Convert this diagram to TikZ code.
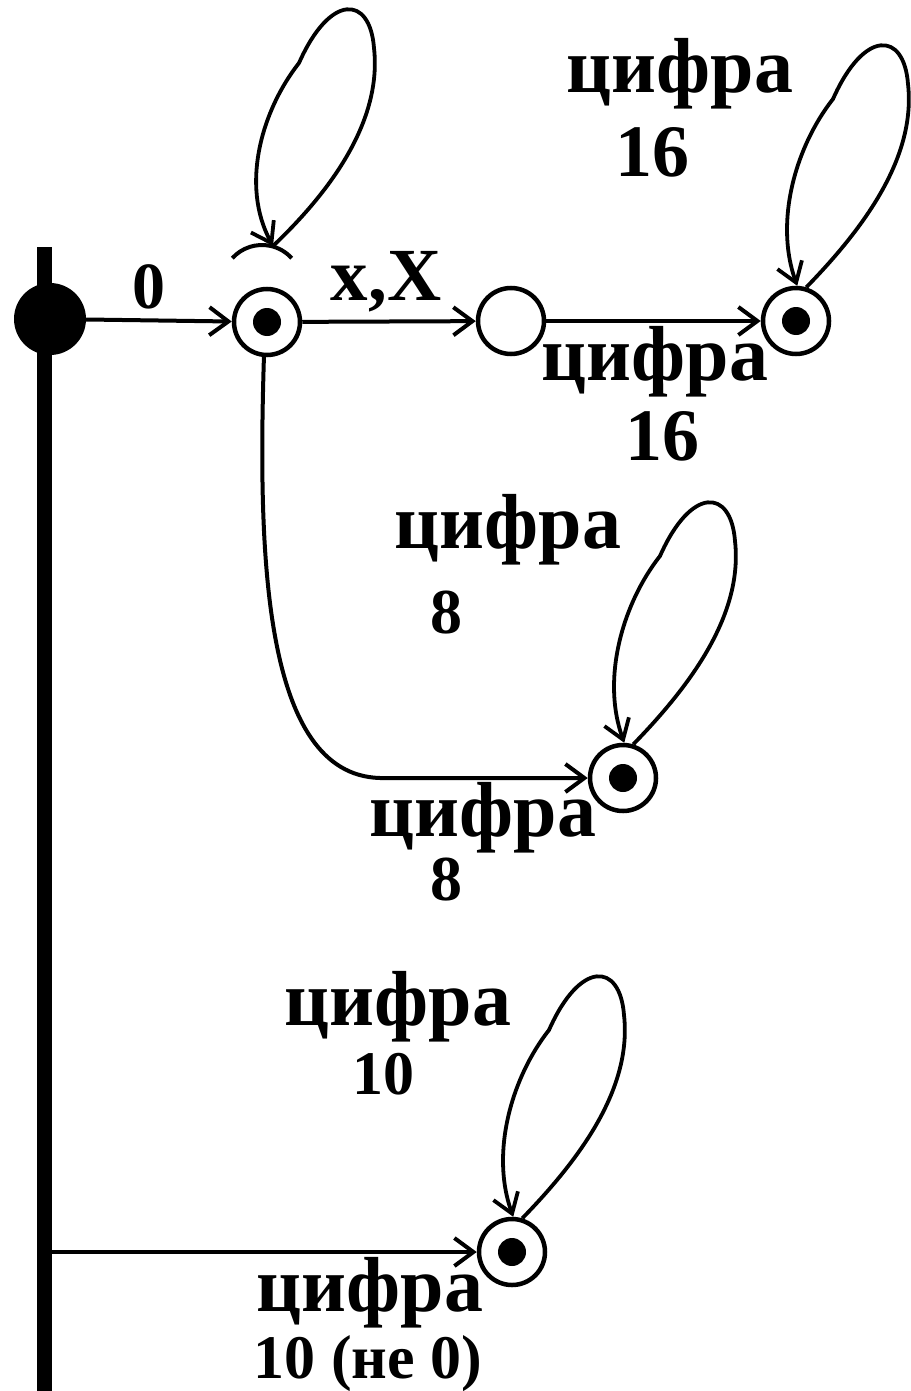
\documentclass[tikz,border=0pt]{standalone}
\usepackage{fontspec}
\setmainfont{Liberation Serif}
\usetikzlibrary{arrows.meta,calc}
\newcommand\fsz[1]{\fontsize{#1}{#1}\selectfont\bfseries}
\tikzset{
  lbl/.style={font=\fsz{78}, inner sep=0pt, anchor=base},
  st/.style={circle, draw, line width=4.5pt, minimum size=66pt, inner sep=0pt},
  acc/.style={st, path picture={\fill (path picture bounding box.center) circle (14pt);}},
  edge/.style={line width=4pt, -{Straight Barb[length=19pt,width=28pt]}},
  loopedge/.style={line width=3.8pt, -{Straight Barb[length=19pt,width=26pt]}},
}
\newcommand\leafloop[3]{%
  \begin{scope}[shift={(#1)}]
    \draw[loopedge] (#2) .. controls (70,-95) and (120,-165) .. (112,-237)
      .. controls (108,-290) and (68,-292) .. (37,-222)
      .. controls (0,-175) and (-22,-100) .. (#3);
  \end{scope}}
\begin{document}
\begin{tikzpicture}[x=1pt,y=-1pt]
\useasboundingbox (0,0) rectangle (910,1391);
% bar and initial dot
\node (bar) [rectangle, fill, inner sep=0pt, minimum width=15pt, minimum height=1144pt] at (44,819) {};
\node (init) [circle, fill, inner sep=0pt, minimum size=72pt] at (50,319) {};
% states
\node (A) [acc] at (267,322) {};
\node (B) [st]  at (511,321) {};
\node (C) [acc] at (796,321) {};
\node (D) [acc] at (623,778) {};
\node (E) [acc] at (512,1252) {};
\coordinate (Ap) at (262,285);
\coordinate (Atop) at (273,246);
% phantom arc over A
\draw[line width=4pt] (Ap) ++(138:40pt) arc[start angle=138, end angle=42, radius=40pt];
% edges
\draw[edge] (init) -- (A);
\draw[edge] (A) -- (B);
\draw[edge] (B) -- (C);
\draw[edge] (A.-95) .. controls (258,550) and (262,775) .. (380,778) -- (D);
\draw[edge] (bar.east |- E) -- (E);
% loops
\leafloop{Ap}{Atop}{Atop}
\leafloop{C}{C.73}{C.88}
\leafloop{D}{D.73}{D.88}
\leafloop{E}{E.73}{E.88}
% labels (placed by baseline)
\node (l0)  [lbl, font=\fsz{66}] at (149,308) {0};
\node (lxX) [lbl, font=\fsz{75}] at (386,300) {x,X};
\node (c16a) [lbl] at (680,93) {цифра};
\node (n16a) [lbl, font=\fsz{74}] at (652,177) {16};
\node (c16b) [lbl] at (655,380) {цифра};
\node (n16b) [lbl, font=\fsz{74}] at (662,460) {16};
\node (c8a) [lbl] at (508,548) {цифра};
\node (n8a) [lbl, font=\fsz{64}] at (446,633) {8};
\node (c8b) [lbl] at (483,836) {цифра};
\node (n8b) [lbl, font=\fsz{64}] at (446,900) {8};
\node (c10a) [lbl] at (398,1025) {цифра};
\node (n10a) [lbl, font=\fsz{62}] at (383,1094) {10};
\node (c10b) [lbl] at (370,1311) {цифра};
\node (n10b) [lbl, font=\fsz{62}] at (368,1378) {10 (не 0)};
\end{tikzpicture}
\end{document}
